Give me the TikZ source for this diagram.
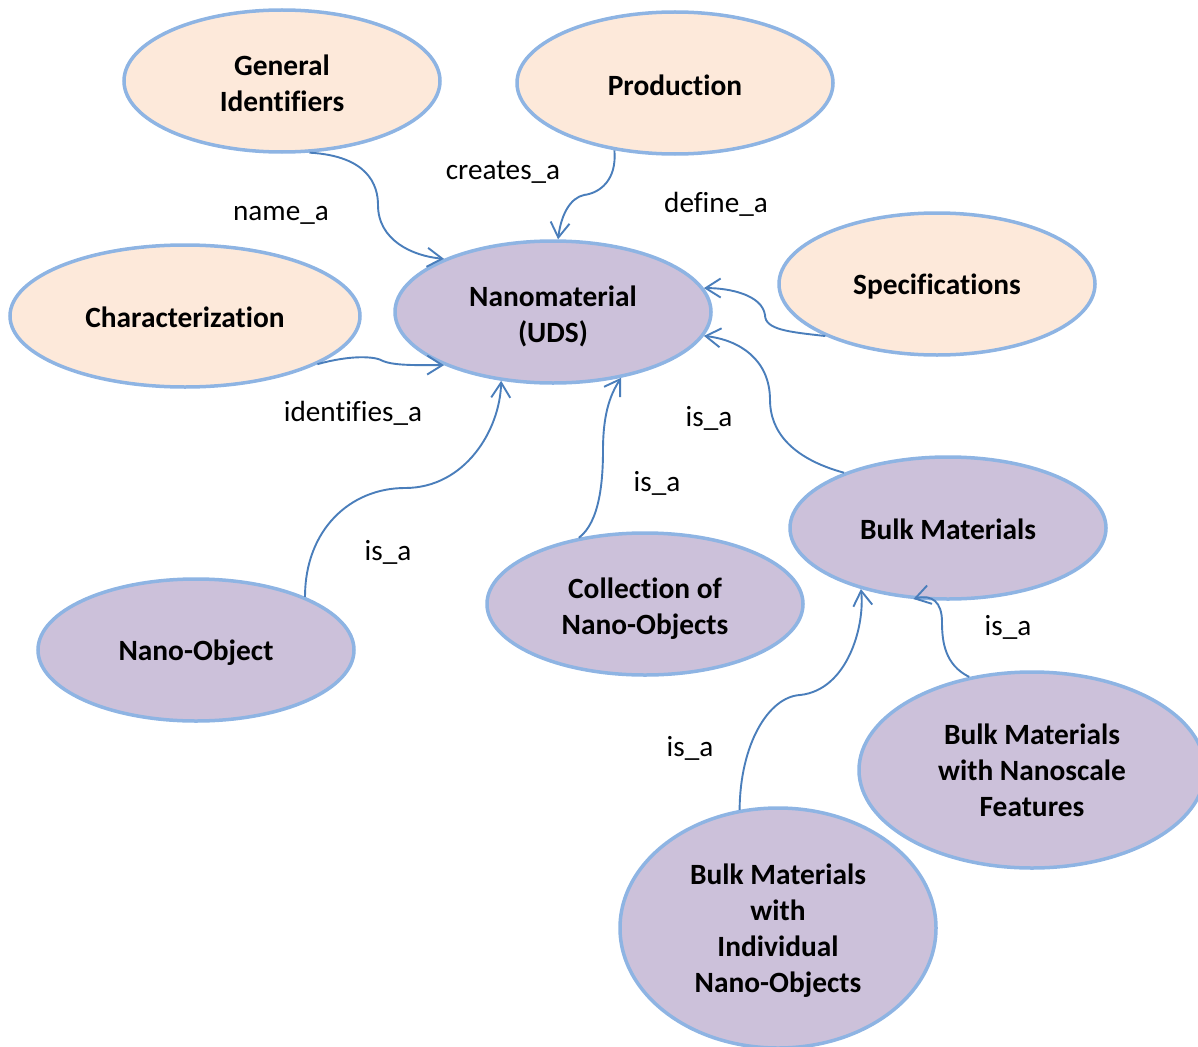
\documentclass[tikz,border=0pt]{standalone}
\usepackage{fontspec}
\setmainfont{Carlito}[Ligatures=NoCommon]
\usetikzlibrary{shapes.geometric,arrows.meta}

\definecolor{rim}{HTML}{8EB4E3}
\definecolor{link}{HTML}{4A7EBB}
\definecolor{peach}{HTML}{FDE9DA}
\definecolor{lilac}{HTML}{CCC1DA}

% a tall strut on the first line sets the text a little lower
\newcommand\firstline[1]{\rule{0pt}{#1}}

\tikzset{
  concept/.style={ellipse, draw=rim, line width=3.5pt, inner sep=0pt,
    align=center, font=\fontsize{29.4}{36}\selectfont\bfseries},
  source/.style={concept, fill=peach},
  kind/.style={concept, fill=lilac},
  rel/.style={font=\fontsize{29.2}{36}\selectfont, inner sep=0pt},
  link/.style={draw=link, line width=1.9pt,
    -{Straight Barb[length=15pt,width=19pt,line width=1.9pt]}},
}

\begin{document}
\begin{tikzpicture}[x=1pt,y=-1pt]
\useasboundingbox (0,0) rectangle (1198,1046);
\clip (0,0) rectangle (1198,1046);

% concepts
\node[source, minimum width=316pt, minimum height=142pt] (gen)  at (282,81)  {\firstline{25pt}General\\Identifiers};
\node[source, minimum width=316pt, minimum height=142pt] (prod) at (675,83)  {\firstline{25pt}Production};
\node[source, minimum width=350pt, minimum height=142pt] (char) at (185,316) {\firstline{23pt}Characterization};
\node[source, minimum width=316pt, minimum height=142pt] (spec) at (937,284) {\firstline{26pt}Specifications};
\node[kind, minimum width=316pt, minimum height=142pt] (nano) at (553,312) {\firstline{29pt}Nanomaterial\\(UDS)};
\node[kind, minimum width=316pt, minimum height=142pt] (bulk) at (948,528) {\firstline{23pt}Bulk Materials};
\node[kind, minimum width=316pt, minimum height=142pt] (coll) at (645,604) {\firstline{30pt}Collection of\\Nano-Objects};
\node[kind, minimum width=316pt, minimum height=142pt] (nobj) at (196,650) {\firstline{26pt}Nano-Object};
\node[kind, minimum width=346pt, minimum height=196pt] (nsf)  at (1032,770) {Bulk Materials\\with Nanoscale\\Features};
\node[kind, minimum width=316pt, minimum height=240pt] (ind)  at (778,928) {\firstline{26pt}Bulk Materials\\with\\Individual\\Nano-Objects};

% relations
\draw[link] (gen.291.5) .. controls (368,156) and (378,185) .. (378,205)
            .. controls (378,240) and (412,256) .. (nano.154);
\draw[link] (prod.228.75) .. controls (617,180) and (600,193) .. (584,195)
            .. controls (570,198) and (561,215) .. (nano.86);
\draw[link] (spec.205.5) .. controls (790,332) and (765,330) .. (765,315)
            .. controls (762,295) and (730,288) .. (nano.9.3);
\draw[link] (char.340) .. controls (350,355) and (375,356) .. (383,361)
            .. controls (395,366) and (420,365) .. (nano.206.1);
\draw[link] (nobj.26.2) .. controls (305,530) and (350,488) .. (405,488)
            .. controls (465,488) and (500,430) .. (nano.233.3);
\draw[link] (coll.135.4) .. controls (600,522) and (603,480) .. (603,450)
            .. controls (603,410) and (612,392) .. (nano.316.2);
\draw[link] (bulk.152) .. controls (790,458) and (770,430) .. (770,400)
            .. controls (770,360) and (740,340) .. (nano.351.5);
\draw[link] (ind.108.7) .. controls (740,745) and (768,697) .. (800,695)
            .. controls (848,690) and (865,625) .. (bulk.215.4);
\draw[link] (nsf.124.3) .. controls (945,665) and (942,642) .. (942,622)
            .. controls (942,602) and (932,594) .. (bulk.244.5);

% relation names
\node[rel] (lname)  at (281,215)  {name\_a};
\node[rel] (lcreat) at (503,172)  {creates\_a};
\node[rel] (ldef)   at (716,204)  {define\_a};
\node[rel] (lident) at (353,413)  {identifies\_a};
\node[rel] (lisno)  at (388,552)  {is\_a};
\node[rel] (liscol) at (657,483)  {is\_a};
\node[rel] (lisbk)  at (709,418)  {is\_a};
\node[rel] (lisnsf) at (1008,627) {is\_a};
\node[rel] (lisind) at (690,748)  {is\_a};
\end{tikzpicture}
\end{document}
